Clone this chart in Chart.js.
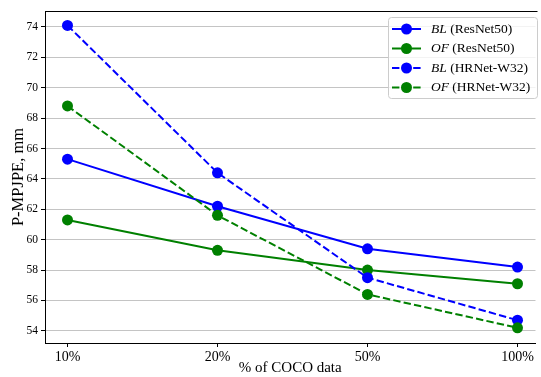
<!DOCTYPE html>
<html><head><meta charset="utf-8">
<script src="https://cdn.jsdelivr.net/npm/chart.js@4"></script>
<style>html,body{margin:0;padding:0;background:#fff}#wrap{width:541px;height:377px;position:relative}</style>
</head><body><div id="wrap"><canvas id="c" width="541" height="377"></canvas></div>
<script>
const categories = ["10%", "20%", "50%", "100%"];
const blResNet = [65.3, 62.2, 59.4, 58.2];
const ofResNet = [61.3, 59.3, 58.0, 57.1];
const blHRNet = [74.1, 64.4, 57.5, 54.7];
const ofHRNet = [68.8, 61.6, 56.4, 54.2];
const yTicks = [54, 56, 58, 60, 62, 64, 66, 68, 70, 72, 74];
const seriesNames = [["BL", " (ResNet50)"], ["OF", " (ResNet50)"], ["BL", " (HRNet-W32)"], ["OF", " (HRNet-W32)"]];

const FONT = "'Liberation Serif', 'Times New Roman', serif";
const toPts = arr => arr.map((v, i) => ({x: i, y: v}));
const BLUE = '#0000ff', GREEN = '#008000';
function ds(label, data, color, dashed, order) {
  return {label, data: toPts(data), borderColor: color, backgroundColor: color,
    borderWidth: 2, pointRadius: 5.5, pointHoverRadius: 5.5, pointBorderWidth: 0,
    borderDash: dashed ? [7.4, 3.2] : [], fill: false, tension: 0, order};
}

const framePlugin = {
  id: 'frame',
  afterDraw(chart) {
    const {ctx, chartArea: a} = chart;
    ctx.save();
    ctx.strokeStyle = '#000'; ctx.lineWidth = 1;
    ctx.beginPath(); ctx.moveTo(a.left, a.top + 0.5); ctx.lineTo(a.right + 2, a.top + 0.5); ctx.stroke();
    // legend
    const x0 = 388, y0 = 17, w = 149, h = 81;
    ctx.fillStyle = 'rgba(255,255,255,0.8)';
    ctx.strokeStyle = '#cccccc';
    ctx.beginPath();
    ctx.roundRect(x0 + 0.5, y0 + 0.5, w, h, 3);
    ctx.fill(); ctx.stroke();
    const rows = [29, 48.5, 68, 87.5];
    chart.data.datasets.forEach((d, i) => {
      const y = rows[i];
      ctx.strokeStyle = d.borderColor; ctx.lineWidth = 2;
      ctx.setLineDash(d.borderDash);
      ctx.beginPath(); ctx.moveTo(392, y); ctx.lineTo(421, y); ctx.stroke();
      ctx.setLineDash([]);
      ctx.fillStyle = d.borderColor;
      ctx.beginPath(); ctx.arc(406.5, y, 5.5, 0, Math.PI * 2); ctx.fill();
      ctx.fillStyle = '#000'; ctx.textBaseline = 'middle'; ctx.textAlign = 'left';
      ctx.font = 'italic 13.5px ' + FONT;
      const p = seriesNames[i];
      ctx.fillText(p[0], 431, y);
      const wi = ctx.measureText(p[0]).width;
      ctx.font = '13.5px ' + FONT;
      ctx.fillText(p[1], 431 + wi, y);
    });
    ctx.restore();
  }
};

new Chart(document.getElementById('c'), {
  type: 'line',
  data: {datasets: [
    ds('BL (ResNet50)', blResNet, BLUE, false, 4),
    ds('OF (ResNet50)', ofResNet, GREEN, false, 3),
    ds('BL (HRNet-W32)', blHRNet, BLUE, true, 2),
    ds('OF (HRNet-W32)', ofHRNet, GREEN, true, 1)
  ]},
  options: {
    responsive: false, animation: false, devicePixelRatio: 1,
    layout: {padding: {left: 9, right: 0, top: 11, bottom: 0}},
    plugins: {legend: {display: false}, tooltip: {enabled: false}},
    scales: {
      x: {type: 'linear', min: -0.15, max: 3.12,
        afterBuildTicks: s => { s.ticks = categories.map((c, i) => ({value: i})); },
        afterFit: s => { s.height = 34; },
        ticks: {callback: v => categories[v], color: '#000', font: {family: FONT, size: 14}, padding: 2, maxRotation: 0, autoSkip: false},
        grid: {display: true, drawOnChartArea: false, tickLength: 4, tickColor: '#000'},
        border: {color: '#000', width: 1},
        title: {display: true, text: '% of COCO data', color: '#000', font: {family: FONT, size: 15}, padding: {top: 0, bottom: 0}}
      },
      y: {type: 'linear', min: 53.2, max: 75.05,
        afterBuildTicks: s => { s.ticks = yTicks.map(v => ({value: v})); },
        afterFit: s => { s.width = 36; },
        ticks: {color: '#000', font: {family: FONT, size: 11.5}, padding: 3},
        grid: {color: '#c4c4c4', lineWidth: 1, tickLength: 4, tickColor: '#000'},
        border: {color: '#000', width: 1},
        title: {display: true, text: 'P-MPJPE, mm', color: '#000', font: {family: FONT, size: 16.5}, padding: {top: 0, bottom: 0}}
      }
    }
  },
  plugins: [framePlugin]
});
</script></body></html>
